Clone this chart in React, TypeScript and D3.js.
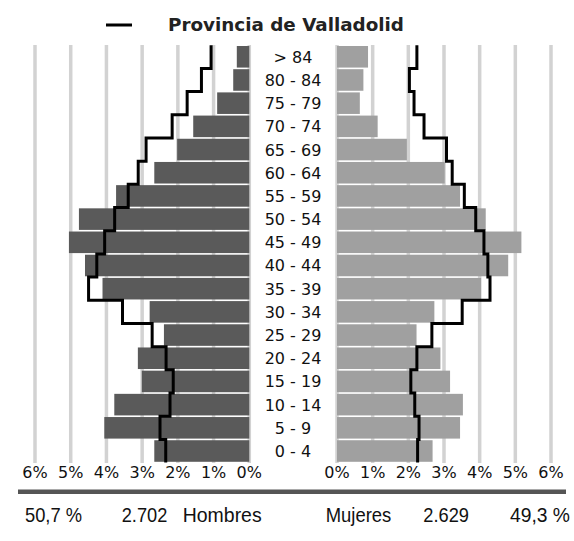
import React from "react";
import * as d3 from "d3";

const ages = ["> 84", "80 - 84", "75 - 79", "70 - 74", "65 - 69", "60 - 64", "55 - 59", "50 - 54", "45 - 49", "40 - 44", "35 - 39", "30 - 34", "25 - 29", "20 - 24", "15 - 19", "10 - 14", "5 - 9", "0 - 4"];

// % of total population, municipality
const hombres = [0.35, 0.45, 0.9, 1.57, 2.02, 2.66, 3.73, 4.77, 5.05, 4.6, 4.11, 2.79, 2.39, 3.12, 3.01, 3.78, 4.06, 2.66];
const mujeres = [0.87, 0.74, 0.64, 1.14, 1.96, 3.02, 3.45, 4.17, 5.17, 4.8, 4.04, 2.73, 2.23, 2.9, 3.17, 3.53, 3.45, 2.68];

// Provincia de Valladolid
const provHombres = [1.07, 1.34, 1.74, 2.16, 2.89, 3.11, 3.39, 3.77, 4.05, 4.27, 4.5, 3.55, 2.72, 2.33, 2.13, 2.22, 2.5, 2.34];
const provMujeres = [2.24, 2.03, 2.16, 2.44, 3.07, 3.23, 3.57, 3.89, 4.12, 4.23, 4.29, 3.51, 2.66, 2.24, 2.07, 2.18, 2.3, 2.26];

const ticks = [0, 1, 2, 3, 4, 5, 6];

const totals = { pctH: "50,7 %", nH: "2.702", pctM: "49,3 %", nM: "2.629" };

const W = 574;
const H = 541;

const App = () => {
  const xL = d3.scaleLinear().domain([0, 6]).range([249.3, 35]);
  const xR = d3.scaleLinear().domain([0, 6]).range([337, 551]);
  const y = d3.scaleBand().domain(ages).range([45.2, 462.6]).paddingInner(0.07).paddingOuter(0.035);
  const step = y.step();
  const gap = step * 0.07;

  const stepLine = (vals, x) => {
    const pts = vals.map((v, i) => [x(v), y(ages[i]) - gap / 2]);
    pts.push([x(vals[vals.length - 1]), y(ages[ages.length - 1]) + y.bandwidth() + gap / 2]);
    return d3.line().curve(d3.curveStepBefore)(pts);
  };

  const font = "'DejaVu Sans', Verdana, sans-serif";
  const arial = "'Liberation Sans', Arial, sans-serif";

  return (
    <svg width={W} height={H} style={{ position: "absolute", left: 0, top: 0, background: "#fff" }}>
      {/* legend */}
      <line x1={106} x2={132} y1={25} y2={25} stroke="#000" strokeWidth={3} />
      <text x={168} y={31} fontFamily={font} fontWeight="bold" fontSize={17} fill="#222" textLength={236} lengthAdjust="spacingAndGlyphs">
        Provincia de Valladolid
      </text>

      {/* grid */}
      {ticks.map((t) => (
        <g key={t}>
          <line x1={xL(t)} x2={xL(t)} y1={45} y2={463} stroke="#d2d2d2" strokeWidth={3.5} />
          <line x1={xR(t)} x2={xR(t)} y1={45} y2={463} stroke="#d2d2d2" strokeWidth={3.5} />
        </g>
      ))}

      {/* bars */}
      {ages.map((a, i) => (
        <g key={a}>
          <rect x={xL(hombres[i])} y={y(a)} width={xL(0) - xL(hombres[i])} height={y.bandwidth()} fill="#5a5a5a" />
          <rect x={xR(0)} y={y(a)} width={xR(mujeres[i]) - xR(0)} height={y.bandwidth()} fill="#a0a0a0" />
          <text x={293} y={y(a) + y.bandwidth() / 2 + 6} textAnchor="middle" fontFamily={font} fontSize={16} fill="#111">
            {a}
          </text>
        </g>
      ))}

      {/* provincia lines */}
      <path d={stepLine(provHombres, xL)} fill="none" stroke="#000" strokeWidth={3} />
      <path d={stepLine(provMujeres, xR)} fill="none" stroke="#000" strokeWidth={3} />

      {/* tick labels */}
      {ticks.map((t) => (
        <g key={"t" + t}>
          <text x={xL(t)} y={478} textAnchor="middle" fontFamily={font} fontSize={16} fill="#111">{t}%</text>
          <text x={xR(t)} y={478} textAnchor="middle" fontFamily={font} fontSize={16} fill="#111">{t}%</text>
        </g>
      ))}

      {/* bottom rule */}
      <line x1={18} x2={566} y1={491.8} y2={491.8} stroke="#555" strokeWidth={4.5} />

      {/* totals */}
      <g fontFamily={arial} fontSize={21} fill="#111">
        <text x={25} y={521.5} textLength={57} lengthAdjust="spacingAndGlyphs">{totals.pctH}</text>
        <text x={121.7} y={521.5} textLength={45.6} lengthAdjust="spacingAndGlyphs">{totals.nH}</text>
        <text x={182.7} y={521.5} textLength={79} lengthAdjust="spacingAndGlyphs">Hombres</text>
        <text x={325.7} y={521.5} textLength={65.6} lengthAdjust="spacingAndGlyphs">Mujeres</text>
        <text x={423.3} y={521.5} textLength={45.7} lengthAdjust="spacingAndGlyphs">{totals.nM}</text>
        <text x={510} y={521.5} textLength={60} lengthAdjust="spacingAndGlyphs">{totals.pctM}</text>
      </g>
    </svg>
  );
};

export default App;
